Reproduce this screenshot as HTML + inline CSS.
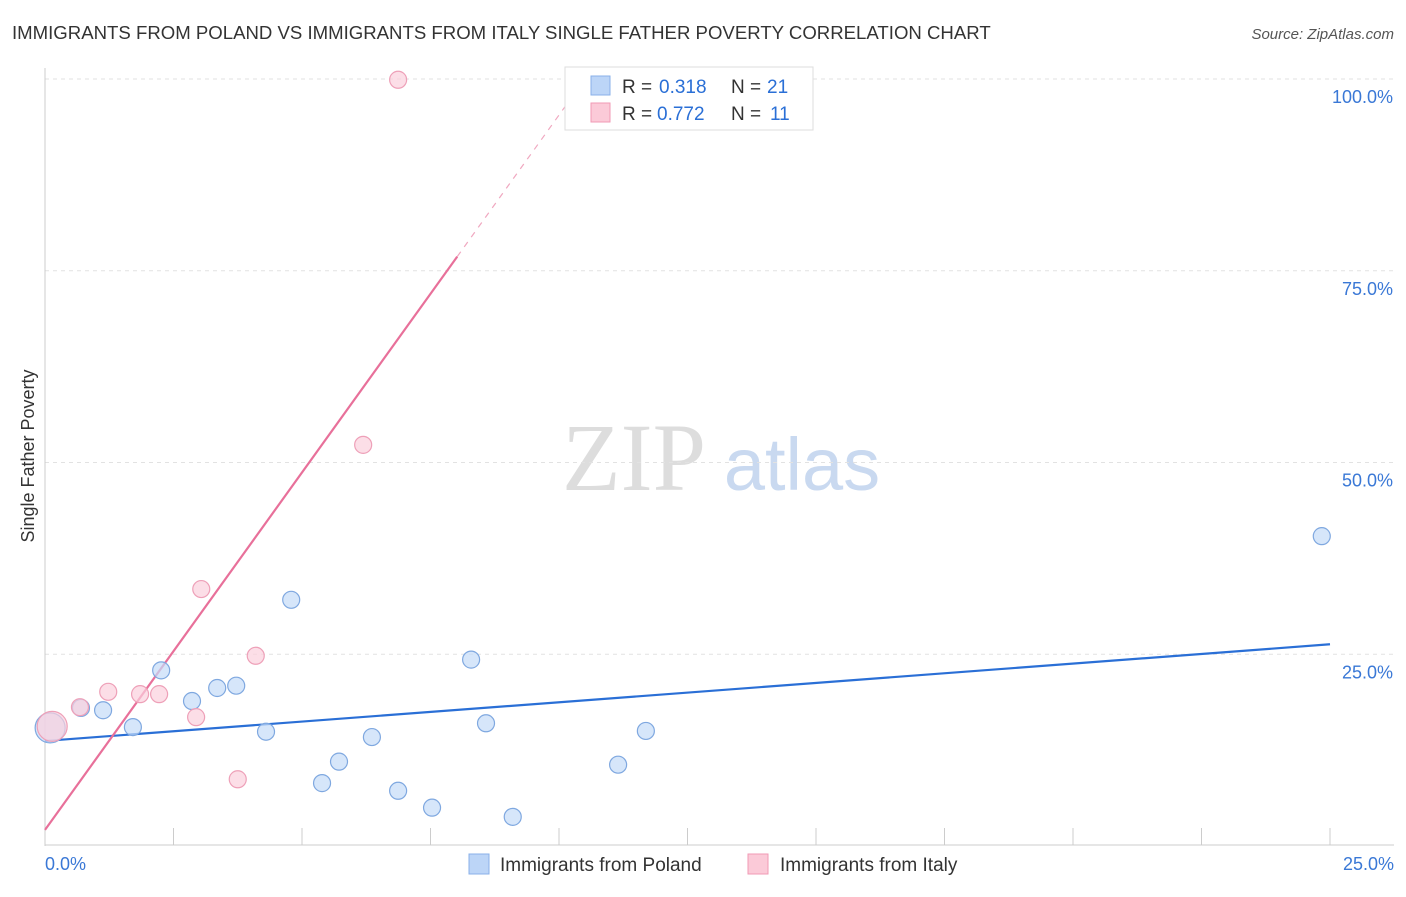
<!DOCTYPE html>
<html><head><meta charset="utf-8"><style>
body{margin:0;background:#fff;font-family:"Liberation Sans",sans-serif;}
</style></head><body>
<svg id="chart" width="1406" height="892" xmlns="http://www.w3.org/2000/svg" font-family="Liberation Sans, sans-serif">
<text x="12" y="39" font-size="18.6" fill="#333">IMMIGRANTS FROM POLAND VS IMMIGRANTS FROM ITALY SINGLE FATHER POVERTY CORRELATION CHART</text>
<text x="1394" y="39" font-size="15" fill="#555" text-anchor="end" font-style="italic">Source: ZipAtlas.com</text>
<g>
<text x="634" y="490" font-size="96" fill="#ddd" text-anchor="middle" font-family="Liberation Serif, serif">ZIP</text>
<text x="802" y="490" font-size="74" fill="#c9d9f0" text-anchor="middle">atlas</text>
</g>
<text transform="translate(34,456) rotate(-90)" font-size="18" fill="#333" text-anchor="middle">Single Father Poverty</text>
<g id="grid"></g><g id="ticks"></g><g id="lines"></g><g id="pts"></g>
<g>
<rect x="565" y="67" width="248" height="63" fill="#fff" stroke="#ddd"/>
<rect x="591" y="76" width="19" height="19" fill="#bcd5f7" stroke="#8ab0e8"/>
<rect x="591" y="103" width="19" height="19" fill="#fbcad8" stroke="#f09ab5"/>
<text x="622" y="93" font-size="19" fill="#333">R =</text>
<text x="659" y="93" font-size="19" fill="#2a6fd6">0.318</text>
<text x="731" y="93" font-size="19" fill="#333">N =</text>
<text x="767" y="93" font-size="19" fill="#2a6fd6">21</text>
<text x="622" y="120" font-size="19" fill="#333">R =</text>
<text x="657" y="120" font-size="19" fill="#2a6fd6">0.772</text>
<text x="731" y="120" font-size="19" fill="#333">N =</text>
<text x="770" y="120" font-size="19" fill="#2a6fd6">11</text>
</g>
<g>
<rect x="469" y="854" width="20" height="20" fill="#bcd5f7" stroke="#8ab0e8"/>
<text x="500" y="871" font-size="19" fill="#333">Immigrants from Poland</text>
<rect x="748" y="854" width="20" height="20" fill="#fbcad8" stroke="#f09ab5"/>
<text x="780" y="871" font-size="19" fill="#333">Immigrants from Italy</text>
</g>
</svg>
<script>
const yTicks=[25,50,75,100];
const yTickLabels=["25.0%","50.0%","75.0%","100.0%"];
const xTickLabels=["0.0%","25.0%"];
const polandX=[0.1,0.7,1.13,1.71,2.26,2.86,3.35,3.72,4.3,4.79,5.39,5.72,6.36,6.87,7.53,8.29,8.58,9.1,11.15,11.69,24.84];
const polandY=[15.4,18.0,17.7,15.5,22.9,18.9,20.6,20.9,14.9,32.1,8.2,11.0,14.2,7.2,5.0,24.3,16.0,3.8,10.6,15.0,40.4];
const italyX=[0.14,0.68,1.23,1.85,2.22,2.94,3.04,3.75,4.1,6.19,6.87];
const italyY=[15.6,18.1,20.1,19.8,19.8,16.8,33.5,8.7,24.8,52.3,99.9];
const polandFit=[13.7,0.504];
const italyFit=[2.1,9.32];
const NS="http://www.w3.org/2000/svg";
const X=v=>45+v/25*1285, Y=v=>846-v/100*767;
function mk(t,a,p){const e=document.createElementNS(NS,t);for(const k in a)e.setAttribute(k,a[k]);document.getElementById(p).appendChild(e);return e;}
yTicks.forEach((t,i)=>{
 const g=mk('line',{x1:45,x2:1394,y1:Y(t),y2:Y(t),stroke:'#e2e2e2','stroke-dasharray':'4,4'},'grid');
 
 
 const l=mk('text',{x:1393,y:Y(t)+24,'font-size':18,fill:'#3a78d6','text-anchor':'end'},'ticks');
 l.textContent=yTickLabels[i];
 
 
});
const ax=mk('line',{x1:45,x2:45,y1:68,y2:846,stroke:'#ccc'},'grid');


const bx=mk('line',{x1:45,x2:1394,y1:845,y2:845,stroke:'#ccc'},'grid');


for(let i=1;i<=10;i++){const t=mk('line',{x1:X(i*2.5),x2:X(i*2.5),y1:828,y2:845,stroke:'#ccc'},'grid');
 
 }
[[0,'start',45],[25,'end',1394]].forEach((d,i)=>{const l=mk('text',{x:d[2],y:870,'font-size':18,fill:'#3a78d6','text-anchor':d[1]},'ticks');l.textContent=xTickLabels[i];
 
 });
const bl=mk('line',{x1:X(0),y1:Y(polandFit[0]),x2:X(25),y2:Y(polandFit[0]+25*polandFit[1]),stroke:'#2a6fd6','stroke-width':2.2},'lines');


const xs=8.02, xe=(100-italyFit[0])/italyFit[1];
const pl=mk('line',{x1:X(0),y1:Y(italyFit[0]),x2:X(xs),y2:Y(italyFit[0]+xs*italyFit[1]),stroke:'#e8709a','stroke-width':2.2},'lines');


const pd=mk('line',{x1:X(xs),y1:Y(italyFit[0]+xs*italyFit[1]),x2:X(xe),y2:Y(100),stroke:'#f0a8c0','stroke-width':1.2,'stroke-dasharray':'6,6'},'lines');


function pts(xa,ya,f,s,n){xa.forEach((x,i)=>{const c=mk('circle',{cx:X(x),cy:Y(ya[i]),r:i==0?15:8.5,fill:f,stroke:s,'stroke-width':1.2,'fill-opacity':0.7},'pts');
 
 });}
pts(polandX,polandY,'#c5dbf8','#7fa8e0','poland-point');
pts(italyX,italyY,'#fbd0dd','#eea0b8','italy-point');
</script>
</body></html>
